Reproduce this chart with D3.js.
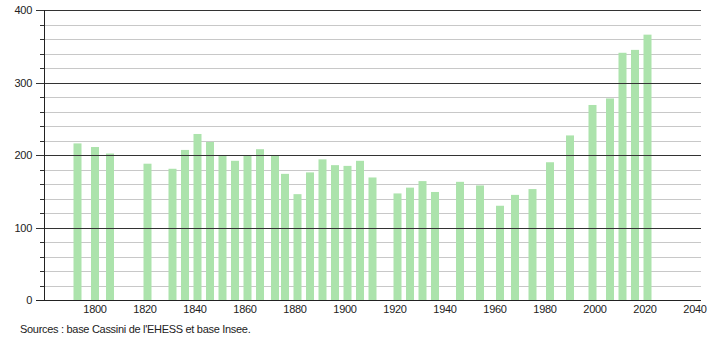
<!DOCTYPE html>
<html>
<head>
<meta charset="utf-8">
<script src="https://cdn.jsdelivr.net/npm/d3@7.9.0/dist/d3.min.js"></script>
<style>
  body { margin: 0; background: #fff; }
  svg text { font-family: "Liberation Sans", Arial, sans-serif; font-size: 11px; fill: #222; letter-spacing: -0.3px; }
</style>
</head>
<body>
<div id="chart"></div>
<script>
// census years and population
const years = [1793, 1800, 1806, 1821, 1831, 1836, 1841, 1846, 1851, 1856, 1861, 1866, 1872, 1876,
  1881, 1886, 1891, 1896, 1901, 1906, 1911, 1921, 1926, 1931, 1936, 1946, 1954, 1962, 1968, 1975,
  1982, 1990, 1999, 2006, 2011, 2016, 2021];
const population = [216, 211, 202, 188, 181, 207, 229, 218, 200, 192, 200, 208, 199, 174,
  146, 176, 194, 186, 185, 192, 169, 147, 155, 164, 149, 163, 158, 130, 145, 153,
  190, 227, 269, 278, 341, 345, 366];
const xTicks = [1800, 1820, 1840, 1860, 1880, 1900, 1920, 1940, 1960, 1980, 2000, 2020, 2040];
const yMajor = [0, 100, 200, 300, 400];

const width = 710;
const height = 340;

const svg = d3.select('#chart')
  .append('svg')
  .attr('width', width)
  .attr('height', height);

const x = d3.scaleLinear().domain([1780, 2042.4]).range([45, 701]);
const y = d3.scaleLinear().domain([0, 400]).range([300, 10]);

// minor gridlines every 20
const minor = d3.range(20, 400, 20).filter(v => v % 100 !== 0);
svg.append('g')
  .selectAll('line')
  .data(minor)
  .join('line')
  .attr('x1', 44).attr('x2', 701)
  .attr('y1', d => Math.round(y(d)) + 0.5).attr('y2', d => Math.round(y(d)) + 0.5)
  .attr('stroke', '#c8c8c8');

// minor ticks
svg.append('g')
  .selectAll('line')
  .data(minor)
  .join('line')
  .attr('x1', 40).attr('x2', 44)
  .attr('y1', d => Math.round(y(d)) + 0.5).attr('y2', d => Math.round(y(d)) + 0.5)
  .attr('stroke', '#333');

// bars
const barW = 8;
svg.append('g')
  .selectAll('rect')
  .data(years)
  .join('rect')
  .attr('x', (d) => x(d) - barW / 2)
  .attr('y', (d, i) => y(population[i]))
  .attr('width', barW)
  .attr('height', (d, i) => y(0) - y(population[i]))
  .attr('fill', '#ace3ac');

// major gridlines (drawn over bars)
svg.append('g')
  .selectAll('line')
  .data(yMajor.filter(v => v > 0))
  .join('line')
  .attr('x1', 36).attr('x2', 701)
  .attr('y1', d => Math.round(y(d)) + 0.5).attr('y2', d => Math.round(y(d)) + 0.5)
  .attr('stroke', '#333');

// y labels
svg.append('g')
  .selectAll('text')
  .data(yMajor)
  .join('text')
  .attr('x', 32)
  .attr('y', d => y(d) + 4)
  .attr('text-anchor', 'end')
  .text(d => d);

// axes lines
svg.append('line')
  .attr('x1', 44.5).attr('x2', 44.5).attr('y1', 10).attr('y2', 300)
  .attr('stroke', '#222');
svg.append('line')
  .attr('x1', 36).attr('x2', 701).attr('y1', 300.5).attr('y2', 300.5)
  .attr('stroke', '#222');

// x labels
svg.append('g')
  .selectAll('text')
  .data(xTicks)
  .join('text')
  .attr('x', d => x(d))
  .attr('y', 313)
  .attr('text-anchor', 'middle')
  .text(d => d);

svg.append('text')
  .attr('x', 20)
  .attr('y', 333)
  .text("Sources : base Cassini de l'EHESS et base Insee.");
</script>
</body>
</html>
